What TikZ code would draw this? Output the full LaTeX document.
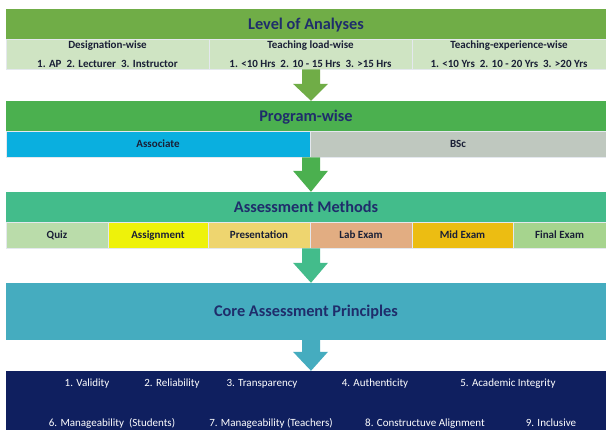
\documentclass[tikz,border=0pt]{standalone}
\usepackage{fontspec}
\setmainfont{Carlito}
\usetikzlibrary{calc}
\definecolor{cLev}{HTML}{70AD47}
\definecolor{cLevSub}{HTML}{CFE4C3}
\definecolor{cProg}{HTML}{4BB04F}
\definecolor{cAssoc}{HTML}{0AAFDF}
\definecolor{cBsc}{HTML}{BFC8BF}
\definecolor{cMeth}{HTML}{43BC8B}
\definecolor{cQuiz}{HTML}{BADCAA}
\definecolor{cAssign}{HTML}{EEF20A}
\definecolor{cPres}{HTML}{EED56F}
\definecolor{cLab}{HTML}{E2AD82}
\definecolor{cMid}{HTML}{ECBD12}
\definecolor{cFinal}{HTML}{A6D48E}
\definecolor{cCore}{HTML}{45ACBF}
\definecolor{cNavy}{HTML}{0F1F5F}
\definecolor{cHead}{HTML}{1F2D6B}
\definecolor{cText}{HTML}{1A1F36}
\definecolor{cGrid}{HTML}{E4E8EE}
\newcommand\blockarrow[4]{\fill[#1] let \p1=(#2.south), \p2=(#3.north) in
 (302pt,\y1) -- (320pt,\y1) -- (320pt,\y2+#4pt) -- (328pt,\y2+#4pt) -- (311pt,\y2) -- (293pt,\y2+#4pt) -- (302pt,\y2+#4pt) -- cycle;}
\begin{document}
\begin{tikzpicture}[x=1pt,y=-1pt,
  band/.style={inner sep=0pt, minimum width=600pt, font=\fontsize{16.3}{18}\selectfont\bfseries, text=cHead, text height=11pt, text depth=0.5pt},
  cell/.style={inner sep=0pt, draw=cGrid, line width=0.6pt, font=\fontsize{11}{12}\selectfont\bfseries, text=cText},
  onel/.style={text height=8pt, text depth=1.5pt},
  twoline/.style={align=center, font=\fontsize{11}{19}\selectfont\bfseries},
  prin/.style={inner sep=0pt, text=white, font=\fontsize{11}{13}\selectfont, text height=8pt, text depth=1.5pt},
]
\useasboundingbox[fill=white] (0,0) rectangle (606,430);

% Level of analyses
\node[band, fill=cLev, minimum height=30pt] (lev) at (306,24) {Level of Analyses};
\node[cell, twoline, fill=cLevSub, minimum width=203pt, minimum height=30pt] (d1) at (107.5,54) {Designation-wise\\1. AP~ 2. Lecturer~ 3. Instructor};
\node[cell, twoline, fill=cLevSub, minimum width=203pt, minimum height=30pt] (d2) at (310.5,54) {Teaching load-wise\\1. <10 Hrs~ 2. 10 - 15 Hrs~ 3. >15 Hrs};
\node[cell, twoline, fill=cLevSub, minimum width=194pt, minimum height=30pt] (d3) at (509,54) {Teaching-experience-wise\\1. <10 Yrs~ 2. 10 - 20 Yrs~ 3. >20 Yrs};

% Program-wise
\node[band, fill=cProg, minimum height=30pt] (prog) at (306,116) {Program-wise};
\node[cell, onel, fill=cAssoc, minimum width=304pt, minimum height=26pt] (assoc) at (158,144) {Associate};
\node[cell, onel, fill=cBsc, minimum width=296pt, minimum height=26pt] (bsc) at (458,144) {BSc};

% Assessment methods
\node[band, fill=cMeth, minimum height=30pt] (meth) at (306,207) {Assessment Methods};
\node[cell, onel, fill=cQuiz, minimum width=102pt, minimum height=26pt] (quiz) at (57,235) {Quiz};
\node[cell, onel, fill=cAssign, minimum width=100pt, minimum height=26pt] (assign) at (158,235) {Assignment};
\node[cell, onel, fill=cPres, minimum width=102pt, minimum height=26pt] (pres) at (259,235) {Presentation};
\node[cell, onel, fill=cLab, minimum width=102pt, minimum height=26pt] (lab) at (361,235) {Lab Exam};
\node[cell, onel, fill=cMid, minimum width=101pt, minimum height=26pt] (mid) at (462.5,235) {Mid Exam};
\node[cell, onel, fill=cFinal, minimum width=93pt, minimum height=26pt] (final) at (559.5,235) {Final Exam};

% Core principles
\node[band, fill=cCore, minimum height=57pt] (core) at (306,311.5) {Core Assessment Principles};
\node[inner sep=0pt, fill=cNavy, minimum width=600pt, minimum height=59pt] (navy) at (306,400.5) {};
\node[prin] (p1) at (87,383) {1. Validity};
\node[prin] (p2) at (172,383) {2. Reliability};
\node[prin] (p3) at (262,383) {3. Transparency};
\node[prin] (p4) at (375,383) {4. Authenticity};
\node[prin] (p5) at (508,383) {5. Academic Integrity};
\node[prin] (p6) at (112,423) {6. Manageability~ (Students)};
\node[prin] (p7) at (271,423) {7. Manageability (Teachers)};
\node[prin] (p8) at (425,423) {8. Constructuve Alignment};
\node[prin] (p9) at (551,423) {9. Inclusive};

% Block arrows
\blockarrow{cLev}{d2}{prog}{17}
\blockarrow{cProg}{bsc}{meth}{21}
\blockarrow{cMeth}{lab}{core}{20}
\blockarrow{cCore}{core}{navy}{19}
\end{tikzpicture}
\end{document}
